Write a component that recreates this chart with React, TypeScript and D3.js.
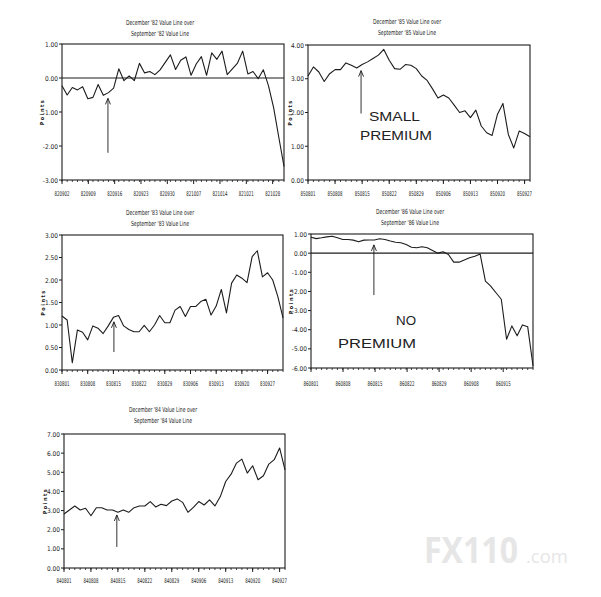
import React from 'react';
import * as d3 from 'd3';

// ---------- DATA ----------
const p1Title = ["December '82 Value Line over", "September '82 Value Line"];
const p1Values = [-0.23, -0.5, -0.28, -0.35, -0.26, -0.61, -0.57, -0.19, -0.51, -0.43, -0.3, 0.27, -0.08, 0.06, -0.08, 0.43, 0.15, 0.19, 0.1, 0.24, 0.46, 0.68, 0.25, 0.52, 0.62, 0.08, 0.41, 0.63, 0.08, 0.74, 0.55, 0.79, 0.1, 0.27, 0.44, 0.79, 0.12, 0.19, -0.02, 0.24, -0.23, -0.88, -1.75, -2.6];
const p1XLabels = ['820902', '820909', '820916', '820923', '820930', '821007', '821014', '821021', '821028'];
const p1YTicks = [-3, -2, -1, 0, 1];

const p2Title = ["December '85 Value Line over", "September '85 Value Line"];
const p2Values = [3.08, 3.35, 3.2, 2.92, 3.15, 3.27, 3.27, 3.47, 3.4, 3.32, 3.42, 3.5, 3.6, 3.7, 3.87, 3.55, 3.3, 3.28, 3.42, 3.4, 3.3, 3.08, 2.95, 2.7, 2.43, 2.52, 2.43, 2.22, 2.0, 2.05, 1.85, 2.07, 1.6, 1.4, 1.32, 1.95, 2.27, 1.35, 0.95, 1.45, 1.38, 1.28];
const p2XLabels = ['850801', '850808', '850815', '850822', '850829', '850906', '850913', '850920', '850927'];
const p2YTicks = [0, 1, 2, 3, 4];

const p3Title = ["December '83 Value Line over", "September '83 Value Line"];
const p3Values = [1.2, 1.11, 0.16, 0.89, 0.84, 0.67, 0.98, 0.93, 0.81, 0.98, 1.17, 1.21, 0.98, 0.9, 0.85, 0.85, 0.99, 0.85, 1.0, 1.21, 1.05, 1.05, 1.33, 1.41, 1.19, 1.41, 1.41, 1.52, 1.57, 1.22, 1.42, 1.79, 1.27, 1.93, 2.11, 2.04, 1.94, 2.52, 2.65, 2.07, 2.16, 2.0, 1.63, 1.16];
const p3XLabels = ['830801', '830808', '830815', '830822', '830829', '830906', '830913', '830920', '830927'];
const p3YTicks = [0, 0.5, 1, 1.5, 2, 2.5, 3];

const p4Title = ["December '86 Value Line over", "September '86 Value Line"];
const p4Values = [0.83, 0.76, 0.8, 0.85, 0.88, 0.8, 0.71, 0.71, 0.68, 0.59, 0.68, 0.69, 0.69, 0.75, 0.71, 0.63, 0.57, 0.54, 0.45, 0.31, 0.28, 0.33, 0.28, 0.14, 0.0, 0.07, -0.07, -0.47, -0.47, -0.36, -0.24, -0.16, -0.05, -1.46, -1.72, -2.07, -2.41, -4.5, -3.8, -4.32, -3.75, -3.85, -5.88];
const p4XLabels = ['860801', '860808', '860815', '860822', '860829', '860908', '860915'];
const p4YTicks = [-6, -5, -4, -3, -2, -1, 0, 1];

const p5Title = ["December '84 Value Line over", "September '84 Value Line"];
const p5Values = [2.82, 3.03, 3.24, 3.03, 3.12, 2.73, 3.15, 3.15, 3.03, 3.03, 2.91, 3.03, 2.91, 3.15, 3.24, 3.24, 3.47, 3.19, 3.33, 3.26, 3.5, 3.61, 3.43, 2.91, 3.17, 3.47, 3.29, 3.56, 3.24, 3.73, 4.52, 4.9, 5.48, 5.69, 4.96, 5.34, 4.61, 4.82, 5.43, 5.66, 6.27, 5.13];
const p5XLabels = ['840801', '840808', '840815', '840822', '840829', '840906', '840913', '840920', '840927'];
const p5YTicks = [0, 1, 2, 3, 4, 5, 6, 7];

// arrow annotations: [index, tipValue, tailValue]
const p1Arrow = [8.9, -0.6, -2.2];
const p2Arrow = [9.8, 3.24, 1.97];
const p3Arrow = [10.1, 1.07, 0.4];
const p4Arrow = [11.9, 0.43, -2.19];
const p5Arrow = [9.8, 2.77, 1.1];

// ---------- LAYOUT ----------
type PanelProps = {
  title: string[];
  values: number[];
  xLabels: string[];
  yTicks: number[];
  arrow: number[];
  left: number; right: number; top: number; bottom: number;
  labelStep: number;
  titleX: number; titleY: number;
  xLabelY: number;
  pointsX: number;
  zeroLine: boolean;
};

const FONT = "'DejaVu Sans Condensed', 'DejaVu Sans', sans-serif";
const INK = '#1c1c1c';

function Panel(p: PanelProps) {
  const n = p.values.length;
  const x = d3.scaleLinear().domain([0, n - 1]).range([p.left, p.right]);
  const dom = d3.extent(p.yTicks) as [number, number];
  const y = d3.scaleLinear().domain(dom).range([p.bottom, p.top]);
  const line = d3.line<number>().x((_, i) => x(i)).y((d) => y(d));
  const minor = d3.range(0, n);
  const major = p.xLabels.map((_, i) => i * p.labelStep);
  const midY = (p.top + p.bottom) / 2;
  const ax = x(p.arrow[0]);
  const tipY = y(p.arrow[1]);
  const tailY = y(p.arrow[2]);
  return (
    <g>
      {p.title.map((t, i) => (
        <text key={i} x={p.titleX} y={p.titleY + i * 10.5} textAnchor="middle" fontFamily={FONT}
          fontSize={7} fill={INK} textLength={i === 0 ? 68 : 58} lengthAdjust="spacingAndGlyphs">{t}</text>
      ))}
      <rect x={p.left} y={p.top} width={p.right - p.left} height={p.bottom - p.top} fill="none" stroke={INK} strokeWidth={1.1} />
      {p.zeroLine && (
        <line x1={p.left} x2={p.right} y1={y(0)} y2={y(0)} stroke={INK} strokeWidth={1.1} />
      )}
      {p.yTicks.map((t) => (
        <g key={t}>
          <line x1={p.left - 3} x2={p.left} y1={y(t)} y2={y(t)} stroke={INK} strokeWidth={1} />
          <text x={p.left - 4} y={y(t) + 2.5} textAnchor="end" fontFamily={FONT} fontSize={6.5} fill={INK}>
            {t.toFixed(2)}
          </text>
        </g>
      ))}
      {minor.map((i) => (
        <line key={'m' + i} x1={x(i)} x2={x(i)} y1={p.bottom} y2={p.bottom + 2} stroke={INK} strokeWidth={0.8} />
      ))}
      {major.map((v, i) => (
        <g key={'M' + i}>
          <line x1={x(v)} x2={x(v)} y1={p.bottom} y2={p.bottom + 4} stroke={INK} strokeWidth={1} />
          <text x={x(v)} y={p.xLabelY} textAnchor="middle" fontFamily={FONT} fontSize={6.5} fill={INK}
            textLength={15} lengthAdjust="spacingAndGlyphs">{p.xLabels[i]}</text>
        </g>
      ))}
      <text transform={`translate(${p.pointsX},${midY}) rotate(-90)`} textAnchor="middle" fontFamily={FONT}
        fontSize={5.5} fontWeight="bold" fill={INK} letterSpacing={1.5}>Points</text>
      <path d={line(p.values) || ''} fill="none" stroke={INK} strokeWidth={1.1} strokeLinejoin="round" />
      <g stroke={INK} strokeWidth={0.9} fill="none">
        <line x1={ax} x2={ax} y1={tailY} y2={tipY} />
        <polyline points={`${ax - 2.5},${tipY + 6} ${ax},${tipY} ${ax + 2.5},${tipY + 6}`} />
      </g>
    </g>
  );
}

const HAND = "'Liberation Sans', 'DejaVu Sans', sans-serif";

export default function App() {
  return (
    <svg width={601} height={597} style={{ position: 'absolute', left: 0, top: 0, background: '#fff' }}>
      <rect x={0} y={0} width={601} height={597} fill="#fff" />
      <g fill="#e6e6e6">
        <text x={424} y={563} fontFamily="'Open Sans', 'DejaVu Sans', sans-serif" fontWeight="bold" fontSize={35}
          textLength={94} lengthAdjust="spacingAndGlyphs">FX110</text>
        <text x={526} y={563} fontFamily="'Open Sans', 'DejaVu Sans', sans-serif" fontSize={19}
          textLength={42} lengthAdjust="spacingAndGlyphs">.com</text>
      </g>
      <Panel title={p1Title} values={p1Values} xLabels={p1XLabels} yTicks={p1YTicks} arrow={p1Arrow}
        left={62} right={284} top={44} bottom={180} labelStep={5.1} titleX={160} titleY={25} xLabelY={196}
        pointsX={44} zeroLine={true} />
      <Panel title={p2Title} values={p2Values} xLabels={p2XLabels} yTicks={p2YTicks} arrow={p2Arrow}
        left={308} right={530} top={45} bottom={180} labelStep={5} titleX={407} titleY={24} xLabelY={196}
        pointsX={292} zeroLine={false} />
      <Panel title={p3Title} values={p3Values} xLabels={p3XLabels} yTicks={p3YTicks} arrow={p3Arrow}
        left={62} right={283} top={235} bottom={370} labelStep={5} titleX={160} titleY={215} xLabelY={386}
        pointsX={45} zeroLine={false} />
      <Panel title={p4Title} values={p4Values} xLabels={p4XLabels} yTicks={p4YTicks} arrow={p4Arrow}
        left={311} right={533} top={234} bottom={368} labelStep={6.06} titleX={410} titleY={214} xLabelY={386}
        pointsX={293} zeroLine={true} />
      <Panel title={p5Title} values={p5Values} xLabels={p5XLabels} yTicks={p5YTicks} arrow={p5Arrow}
        left={64} right={285} top={434} bottom={568} labelStep={5} titleX={163} titleY={412} xLabelY={583}
        pointsX={47} zeroLine={false} />
      <g fill="#222" fontFamily={HAND} fontSize={13}>
        <text x={369} y={121} textLength={51} lengthAdjust="spacingAndGlyphs">SMALL</text>
        <text x={360} y={140} textLength={72} lengthAdjust="spacingAndGlyphs">PREMIUM</text>
        <text x={396} y={325} textLength={20} lengthAdjust="spacingAndGlyphs">NO</text>
        <text x={338} y={348} textLength={78} lengthAdjust="spacingAndGlyphs">PREMIUM</text>
      </g>
    </svg>
  );
}
